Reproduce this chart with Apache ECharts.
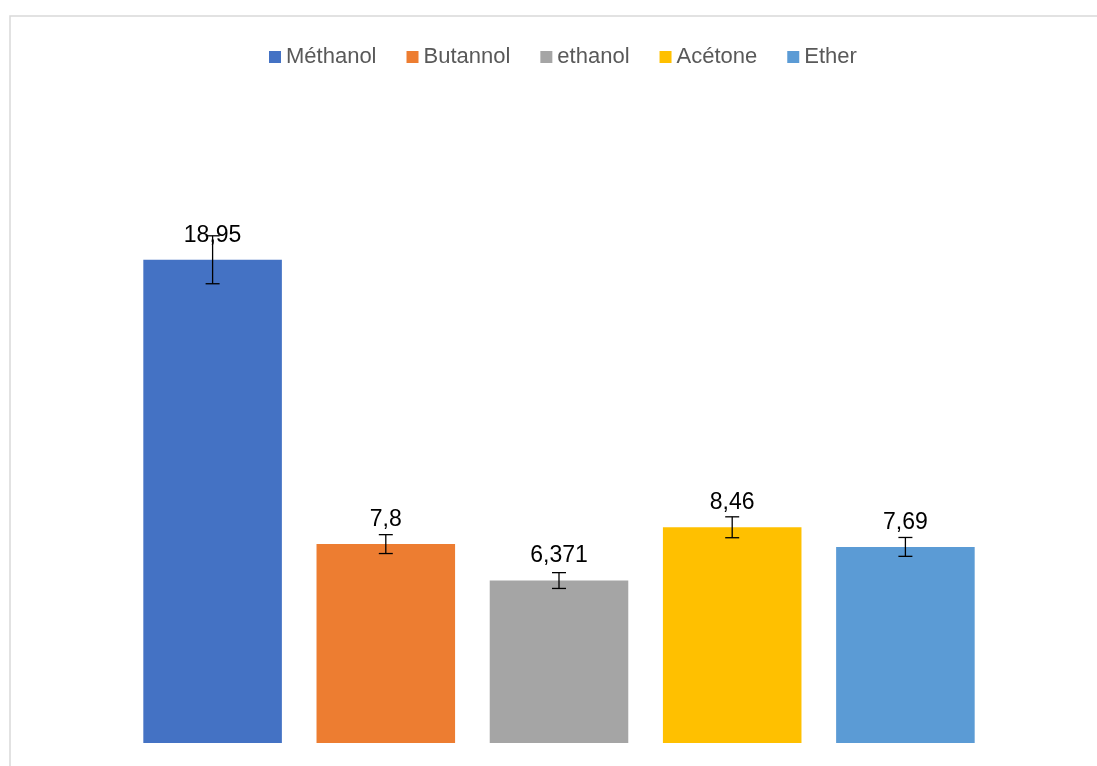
<!DOCTYPE html>
<html>
<head>
<meta charset="utf-8">
<script src="https://cdn.jsdelivr.net/npm/echarts@6/dist/echarts.min.js"></script>
<style>html,body{margin:0;padding:0;background:#fff;}#c{width:1097px;height:766px;}</style>
</head>
<body>
<div id="c"></div>
<script>
var categories = ['Méthanol', 'Butannol', 'ethanol', 'Acétone', 'Ether'];
var values = [18.95, 7.8, 6.371, 8.46, 7.69];
var errors = [0.94, 0.37, 0.31, 0.41, 0.37];
var colors = ['#4472C4', '#ED7D31', '#A5A5A5', '#FFC000', '#5B9BD5'];

var chart = echarts.init(document.getElementById('c'));
var series = categories.map(function (name, i) {
  var d = categories.map(function (_, j) { return j === i ? values[i] : null; });
  return {
    name: name,
    type: 'bar',
    data: d,
    barWidth: '80%',
    barGap: '-100%',
    itemStyle: { color: colors[i] },
    label: {
      show: true,
      position: 'top',
      distance: 13,
      color: '#000',
      fontFamily: 'Liberation Sans',
      fontSize: 23,
      formatter: function (p) { return String(p.value).replace('.', ','); }
    },
    z: 2
  };
});
series.push({
  type: 'custom',
  name: 'err',
  z: 5,
  data: values.map(function (v, i) { return [i, v, errors[i]]; }),
  renderItem: function (params, api) {
    var i = api.value(0), v = api.value(1), e = api.value(2);
    var hi = api.coord([i, v + e]);
    var lo = api.coord([i, v - e]);
    var x = hi[0], hw = 7;
    var st = { stroke: '#000', lineWidth: 1.3 };
    return {
      type: 'group',
      children: [
        { type: 'line', shape: { x1: x, y1: hi[1], x2: x, y2: lo[1] }, style: st },
        { type: 'line', shape: { x1: x - hw, y1: hi[1], x2: x + hw, y2: hi[1] }, style: st },
        { type: 'line', shape: { x1: x - hw, y1: lo[1], x2: x + hw, y2: lo[1] }, style: st }
      ]
    };
  }
});

chart.setOption({
  animation: false,
  graphic: [{
    type: 'rect',
    shape: { x: 10, y: 16, width: 1200, height: 1000 },
    style: { fill: 'none', stroke: '#d9d9d9', lineWidth: 1.5 },
    silent: true
  }],
  legend: {
    data: categories,
    top: 41,
    left: 264,
    itemWidth: 12,
    itemHeight: 12,
    itemGap: 30,
    icon: 'rect',
    textStyle: { color: '#595959', fontSize: 22, fontFamily: 'Liberation Sans' }
  },
  grid: { left: 126, right: 105, top: 233, bottom: 23 },
  xAxis: {
    type: 'category',
    data: categories,
    axisLine: { show: false },
    axisTick: { show: false },
    axisLabel: { show: false }
  },
  yAxis: {
    type: 'value',
    min: 0,
    max: 20,
    show: false,
    splitLine: { show: false }
  },
  series: series
});
</script>
</body>
</html>
